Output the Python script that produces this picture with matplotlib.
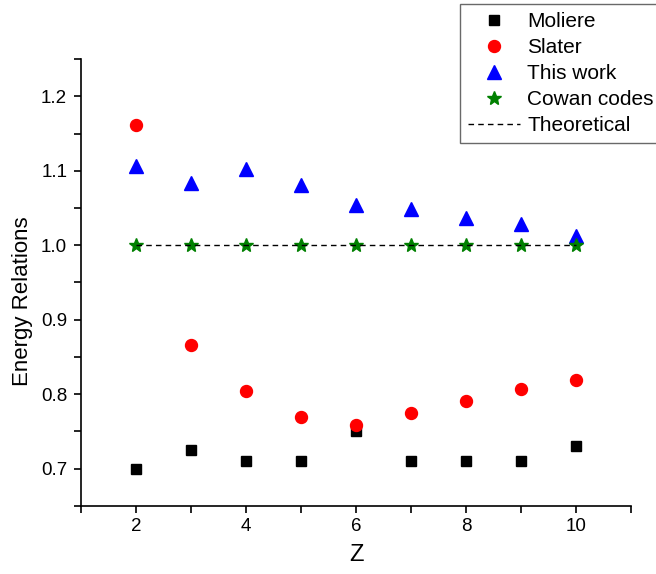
import matplotlib.pyplot as plt
from matplotlib.ticker import MultipleLocator

plt.rcParams['font.family'] = ['Liberation Sans', 'DejaVu Sans']

z = [2, 3, 4, 5, 6, 7, 8, 9, 10]
moliere = [0.700, 0.725, 0.710, 0.710, 0.750, 0.710, 0.710, 0.710, 0.730]
slater = [1.162, 0.866, 0.805, 0.769, 0.759, 0.775, 0.791, 0.807, 0.819]
this_work = [1.107, 1.083, 1.103, 1.081, 1.054, 1.048, 1.037, 1.028, 1.012]
cowan = [1.0, 1.0, 1.0, 1.0, 1.0, 1.0, 1.0, 1.0, 1.0]
theoretical = [1.0, 1.0, 1.0, 1.0, 1.0, 1.0, 1.0, 1.0, 1.0]

fig = plt.figure(figsize=(6.56, 5.74), dpi=100)
ax = fig.add_axes([0.1235, 0.1185, 0.8384, 0.7787])

ax.plot(z, moliere, 's', color='black', markersize=7.5, label='Moliere')
ax.plot(z, slater, 'o', color='red', markersize=8.6, label='Slater')
ax.plot(z, this_work, '^', color='blue', markersize=10, label='This work')
ax.plot(z, cowan, '*', color='green', markersize=10, label='Cowan codes')
ax.plot(z, theoretical, color='black', linewidth=1, dashes=(4, 3), label='Theoretical')

ax.set_xlim(1, 11)
ax.set_ylim(0.65, 1.25)
ax.xaxis.set_major_locator(MultipleLocator(2))
ax.xaxis.set_minor_locator(MultipleLocator(1))
ax.yaxis.set_major_locator(MultipleLocator(0.1))
ax.yaxis.set_minor_locator(MultipleLocator(0.05))
ax.tick_params(which='both', direction='out', length=5, width=1.2, labelsize=13.5)
ax.tick_params(axis='x', pad=4)
ax.tick_params(axis='y', pad=5)

for side in ['top', 'right']:
    ax.spines[side].set_visible(False)
for side in ['left', 'bottom']:
    ax.spines[side].set_linewidth(1.2)

ax.set_xlabel('Z', fontsize=17)
ax.xaxis.set_label_coords(0.5, -0.085)
ax.set_ylabel('Energy Relations', fontsize=16)
ax.yaxis.set_label_coords(-0.087, 0.459)

leg = fig.legend(loc='upper left', bbox_to_anchor=(460 / 656, 1 - 4 / 574),
                 borderaxespad=0, fontsize=15, frameon=True, fancybox=False,
                 handlelength=2.5, labelspacing=0.34, borderpad=0.38,
                 handletextpad=0.35)
leg.get_frame().set_edgecolor('#444444')
leg.get_frame().set_linewidth(1)

fig.savefig('out.png', dpi=100)
